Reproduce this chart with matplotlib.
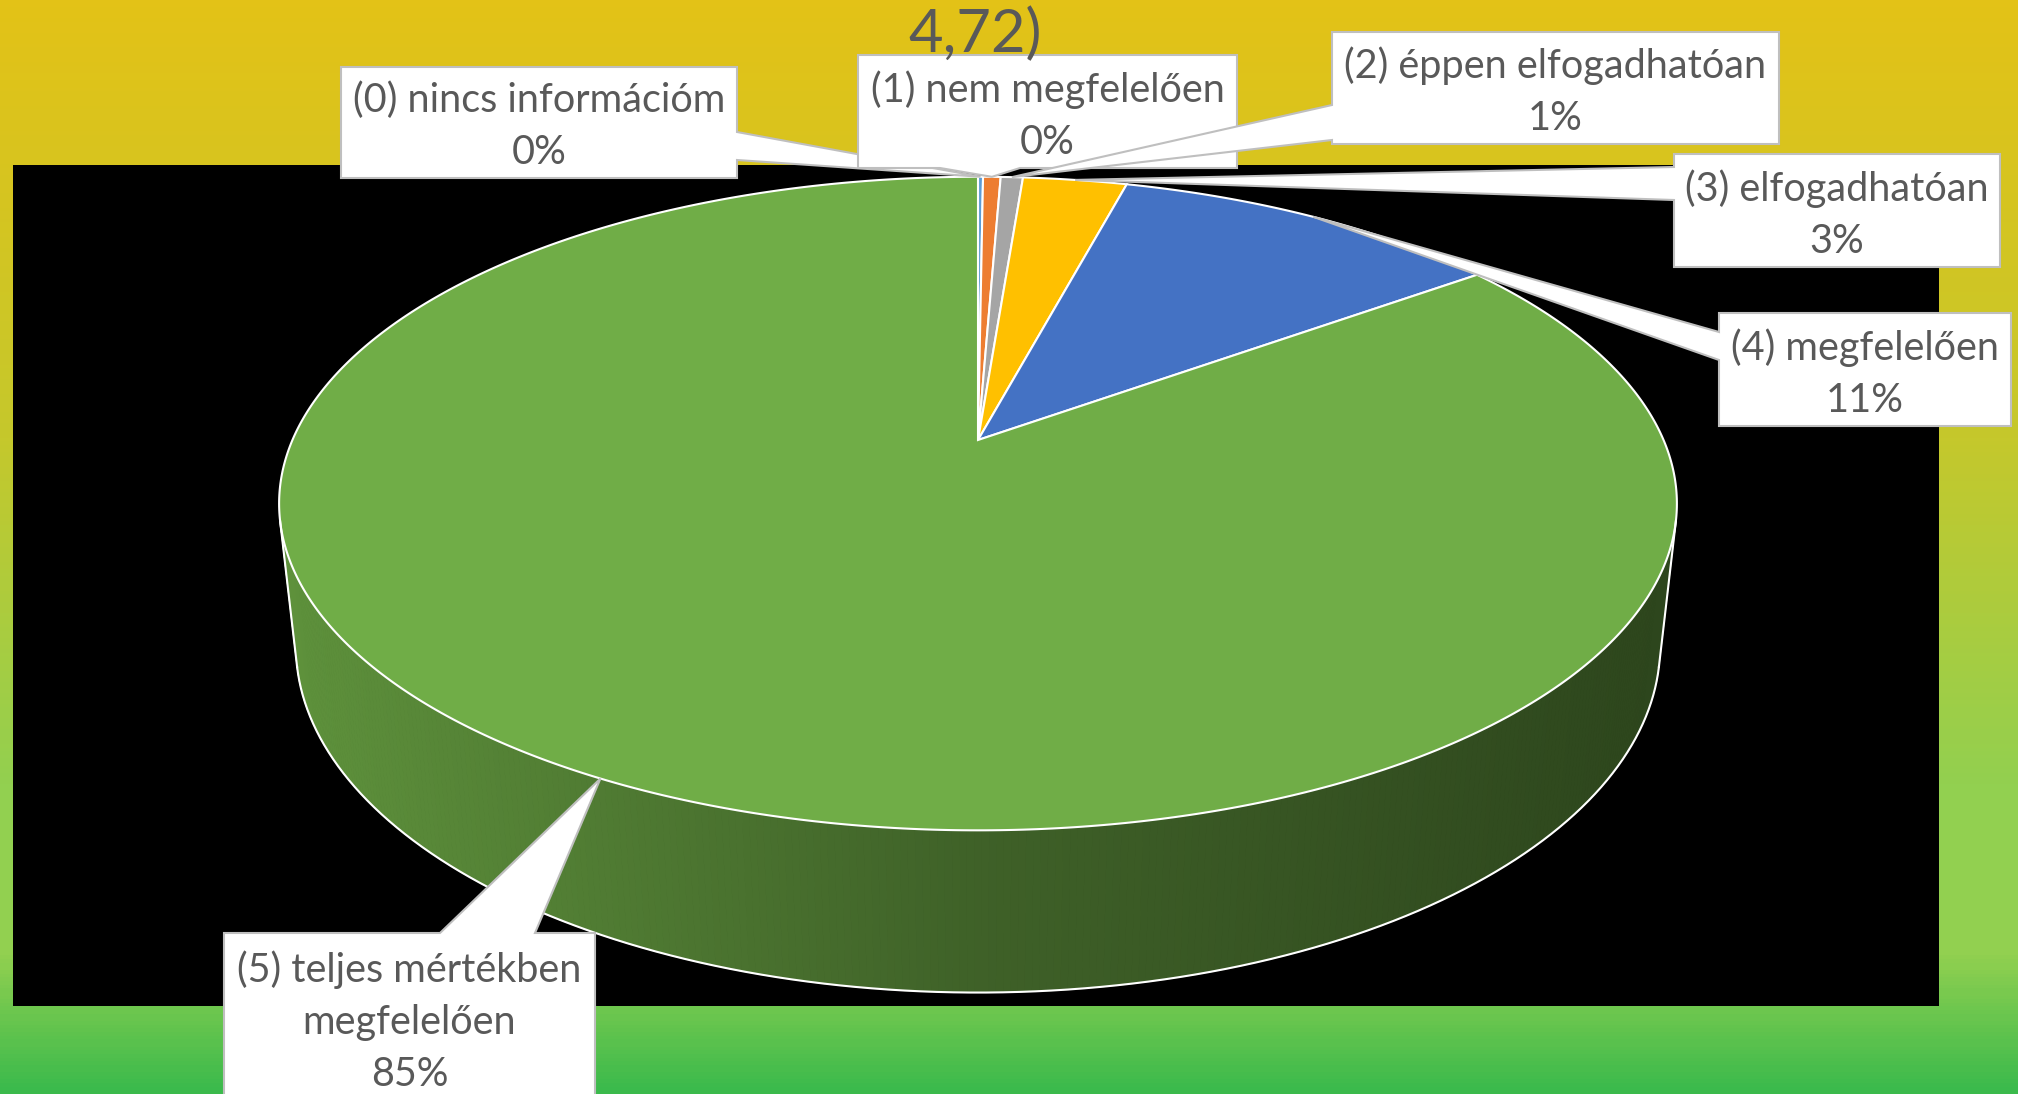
import numpy as np
import matplotlib
matplotlib.use("Agg")
import matplotlib.pyplot as plt
from matplotlib.patches import Polygon, Rectangle
from matplotlib.colors import LinearSegmentedColormap, to_rgb

# data
categories = ["(0) nincs információm", "(1) nem megfelelően", "(2) éppen elfogadhatóan",
              "(3) elfogadhatóan", "(4) megfelelően", "(5) teljes mértékben\nmegfelelően"]
shares = [0.14, 0.49, 0.62, 2.9, 10.9, 84.95]
colors = ["#5B9BD5", "#ED7D31", "#A5A5A5", "#FFC000", "#4472C4", "#70AD47"]
title_tail = "4,72)"

W, H = 2018, 1094
plt.rcParams['font.family'] = ['Lato', 'DejaVu Sans']
fig = plt.figure(figsize=(W / 100, H / 100), dpi=100)
ax = fig.add_axes([0, 0, 1, 1])
ax.set_xlim(0, W)
ax.set_ylim(H, 0)
ax.axis("off")

# background gradient + black plot area
bg = LinearSegmentedColormap.from_list("bg", [(0, "#E3C217"), (0.4, "#C5C82C"), (0.72, "#92D050"),
                                              (0.875, "#92D050"), (1, "#3BBA4C")])
ax.imshow(np.linspace(0, 1, 300).reshape(-1, 1), cmap=bg, extent=[0, W, H, 0], aspect="auto", zorder=0)
ax.add_patch(Rectangle((13, 165), 1926, 841, facecolor="black", zorder=1))

# perspective camera for the 3d pie
phi = np.radians(27.3)
s, c = np.sin(phi), np.cos(phi)
D, F, X0, Y0, h = 4.57, 3133.0, 978.0, 440.0, 0.236


def proj(theta, y=0.0):
    t = np.radians(theta)
    x, z = np.sin(t), -np.cos(t)
    zc = D - y * s - z * c
    return X0 + F * x / zc, Y0 - F * (y * c - z * s) / zc


bounds = np.concatenate([[0], np.cumsum(shares)]) / sum(shares) * 360
tang = np.degrees(np.arccos(-1 / (D * c)))
vis = (tang, 360 - tang)

# side wall (only front part visible)
for i in range(len(shares)):
    a0, a1 = max(bounds[i], vis[0]), min(bounds[i + 1], vis[1])
    if a1 <= a0:
        continue
    th = np.arange(a0, a1, 0.5)
    th = np.append(th, a1)
    base = np.array(to_rgb(colors[i]))
    for k in range(len(th) - 1):
        tx, ty = proj(th[k:k + 2])
        bx, by = proj(th[k:k + 2], -h)
        t = (tx.mean() - 280) / 1400
        col = np.clip(base * np.interp(t, [0, 0.5, 1], [0.84, 0.56, 0.40]), 0, 1)
        ax.add_patch(Polygon([(tx[0], ty[0]), (tx[1], ty[1]), (bx[1], by[1]), (bx[0], by[0])],
                             closed=True, facecolor=col, edgecolor=col, lw=0.8, zorder=3))

th = np.linspace(vis[0], vis[1], 400)
bx, by = proj(th, -h)
ax.plot(bx, by, color="white", lw=1.5, zorder=5)
for a in vis:
    px, py = proj(np.array([a, a]), np.array([0, -h]))
    ax.plot(px, py, color="white", lw=1.5, zorder=5)

# top face
for i in range(len(shares)):
    th = np.linspace(bounds[i], bounds[i + 1], max(int((bounds[i + 1] - bounds[i]) * 2), 2))
    px, py = proj(th)
    ax.add_patch(Polygon(np.column_stack([np.r_[X0, px], np.r_[Y0, py]]), closed=True,
                         facecolor=colors[i], edgecolor="white", lw=1.5, zorder=4))

# callout labels
boxes = [
    (341, 67, 737, 178, "right", 132, 160),
    (858, 55, 1237, 168, "bottom", 940, 1020),
    (1332, 32, 1779, 144, "left", 105, 140),
    (1674, 154, 2000, 267, "left", 167, 200),
    (1719, 313, 2011, 426, "left", 332, 360),
    (224, 933, 595, 1110, "top", 440, 535),
]


def callout(x0, y0, x1, y1, side, b1, b2, tip):
    pts = [(x0, y0)]
    if side == "top":
        pts += [(b1, y0), tip, (b2, y0)]
    pts += [(x1, y0)]
    if side == "right":
        pts += [(x1, b1), tip, (x1, b2)]
    pts += [(x1, y1)]
    if side == "bottom":
        pts += [(b2, y1), tip, (b1, y1)]
    pts += [(x0, y1)]
    if side == "left":
        pts += [(x0, b2), tip, (x0, b1)]
    return pts


for i, (x0, y0, x1, y1, side, b1, b2) in enumerate(boxes):
    mid = (bounds[i] + bounds[i + 1]) / 2
    tx, ty = proj(mid)
    z = 10 + i
    ax.add_patch(Polygon(callout(x0, y0, x1, y1, side, b1, b2, (float(tx), float(ty))), closed=True,
                         facecolor="white", edgecolor="#BFBFBF", lw=1.5, zorder=z, joinstyle="miter"))
    txt = "%s\n%.0f%%" % (categories[i], shares[i] / sum(shares) * 100)
    ty_c = (y0 + y1) / 2 + 4 if i < 5 else 1022
    ax.text((x0 + x1) / 2, ty_c, txt, ha="center", va="center", fontsize=28.5,
            color="#595959", linespacing=1.5, zorder=z + 0.5)

ax.text(975, 52, title_tail, ha="center", va="baseline", fontsize=43, color="#595959", zorder=20)

fig.savefig("out.png", dpi=100)
